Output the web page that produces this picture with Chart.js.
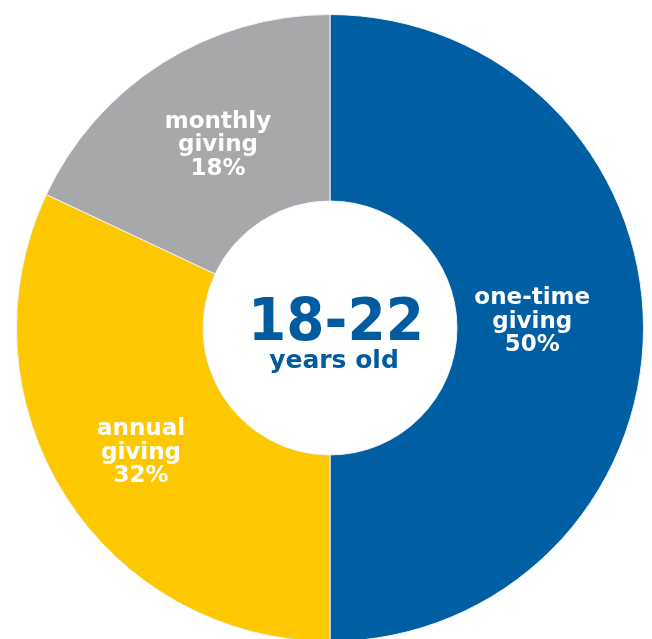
<!DOCTYPE html>
<html>
<head>
<meta charset="utf-8">
<script src="https://cdn.jsdelivr.net/npm/chart.js@4.4.1/dist/chart.umd.min.js"></script>
<style>
  html, body { margin: 0; padding: 0; background: #fff; overflow: hidden; }
  body { width: 652px; height: 639px; position: relative; }
  #wrap { position: absolute; left: 16px; top: 14px; width: 628px; height: 628px; }
</style>
</head>
<body>
<div id="wrap"><canvas id="donut"></canvas></div>
<script>
// giving type shares for the 18-22 age group
const categories = ['one-time giving', 'annual giving', 'monthly giving'];
const shares = [50, 32, 18];
const sliceColors = ['#005ea3', '#fec800', '#a8a8ab'];
const centerTitle = '18-22';
const centerSubtitle = 'years old';

const FONT = "'DejaVu Sans', Verdana, sans-serif";
const BLUE = '#005c9f';

// writes the category + percent inside each slice
const sliceLabels = {
    id: 'sliceLabels',
    afterDatasetsDraw(chart, args, opts) {
        const ctx = chart.ctx;
        const meta = chart.getDatasetMeta(0);
        ctx.save();
        ctx.fillStyle = '#fff';
        ctx.font = 'bold 23px ' + FONT;
        ctx.textAlign = 'center';
        ctx.textBaseline = 'middle';
        meta.data.forEach((arc, i) => {
            const p = arc.tooltipPosition();
            const nudge = opts.nudge[i] || [0, 0];
            const words = categories[i].split(' ');
            const lines = [words[0], words[1], shares[i] + '%'];
            lines.forEach((txt, j) => {
                ctx.fillText(txt, p.x + nudge[0], p.y + nudge[1] + (j - 1) * opts.lineHeight);
            });
        });
        ctx.restore();
    }
};

// age group text in the hole
const centerText = {
    id: 'centerText',
    afterDraw(chart) {
        const arc = chart.getDatasetMeta(0).data[0];
        const ctx = chart.ctx;
        ctx.save();
        ctx.fillStyle = BLUE;
        ctx.textAlign = 'center';
        ctx.textBaseline = 'alphabetic';
        ctx.save();
        ctx.translate(arc.x + 6, arc.y + 12);
        ctx.scale(1, 1.08);
        ctx.font = 'bold 55px ' + FONT;
        ctx.fillText(centerTitle, 0, 0);
        ctx.restore();
        ctx.font = 'bold 25px ' + FONT;
        ctx.fillText(centerSubtitle, arc.x + 4, arc.y + 40);
        ctx.restore();
    }
};

new Chart(document.getElementById('donut'), {
    type: 'doughnut',
    data: {
        labels: categories,
        datasets: [{
            data: shares,
            backgroundColor: sliceColors,
            borderColor: '#eef4fa',
            borderWidth: 1
        }]
    },
    options: {
        responsive: true,
        maintainAspectRatio: false,
        animation: false,
        cutout: '40.5%',
        layout: { padding: 0 },
        plugins: {
            legend: { display: false },
            tooltip: { enabled: false },
            sliceLabels: {
                lineHeight: 23.5,
                nudge: [[-18, -6], [-3, 7], [6, 3]]
            }
        }
    },
    plugins: [sliceLabels, centerText]
});
</script>
</body>
</html>
